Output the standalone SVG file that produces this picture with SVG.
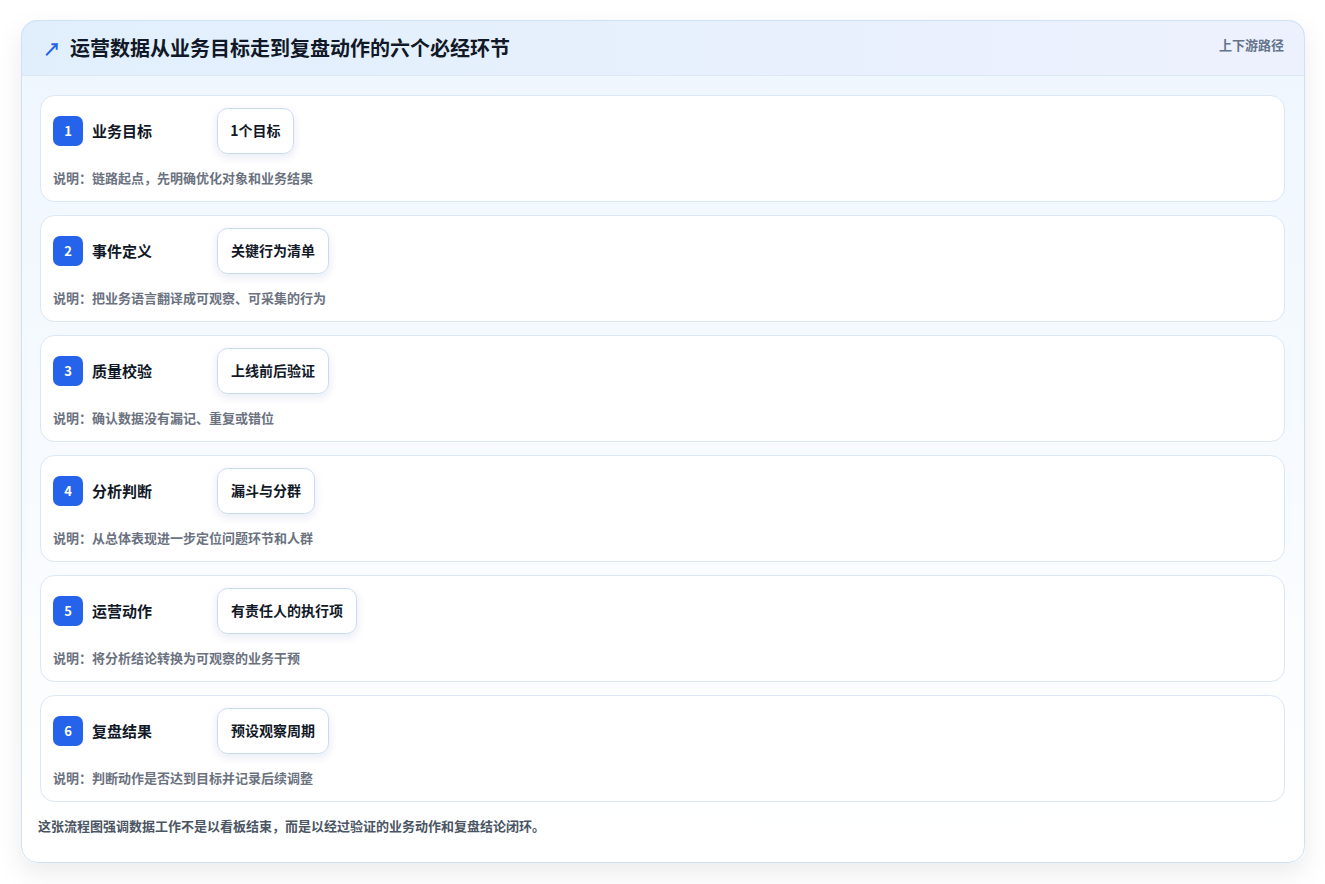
<svg xmlns="http://www.w3.org/2000/svg" width="1325" height="884" viewBox="0 0 1325 884">
<defs>
<linearGradient id="bodyG" x1="0" y1="0" x2="0" y2="1">
<stop offset="0" stop-color="#eef6fe"/>
<stop offset="1" stop-color="#ffffff"/>
</linearGradient>
<linearGradient id="headG" x1="0" y1="0" x2="1" y2="0">
<stop offset="0" stop-color="#e1effd"/>
<stop offset="1" stop-color="#edf1fd"/>
</linearGradient>
<clipPath id="cardClip"><rect x="21" y="20" width="1284" height="843" rx="16"/></clipPath>
<filter id="cardShadow" x="-5%" y="-5%" width="110%" height="115%">
<feDropShadow dx="0" dy="10" stdDeviation="12" flood-color="#0f172a" flood-opacity="0.08"/>
</filter>
<filter id="pillShadow" x="-20%" y="-30%" width="140%" height="170%">
<feDropShadow dx="0" dy="3" stdDeviation="4" flood-color="#1e3a8a" flood-opacity="0.10"/>
</filter>
<style>
text{font-family:"Noto Sans CJK SC","Noto Sans",sans-serif;}
.row{fill:#ffffff;stroke:#dbe7f4;stroke-width:1;}
.badge{fill:#2563eb;}
.num{fill:#ffffff;font-size:13px;font-weight:700;text-anchor:middle;}
.lbl{fill:#111827;font-size:15px;font-weight:700;}
.pill{fill:#ffffff;stroke:#c9dbef;stroke-width:1;filter:url(#pillShadow);}
.ptx{fill:#111827;font-size:14px;font-weight:700;text-anchor:middle;}
.desc{fill:#6b7280;font-size:13px;font-weight:600;}
</style>
</defs>
<rect width="1325" height="884" fill="#ffffff"/>
<rect x="21" y="20" width="1284" height="843" rx="16" fill="url(#bodyG)" filter="url(#cardShadow)"/>
<g clip-path="url(#cardClip)">
<rect x="21" y="20" width="1284" height="55" fill="url(#headG)"/>
<line x1="21" y1="75.5" x2="1305" y2="75.5" stroke="#dbe8f6" stroke-width="1"/>
</g>
<rect x="21.5" y="20.5" width="1283" height="842" rx="16" fill="none" stroke="#cde2f2" stroke-width="1"/>
<g id="header">
<text x="43" y="56" font-size="18" font-weight="700" fill="#2563eb">↗</text>
<text x="70" y="56" font-size="20" font-weight="700" fill="#111827">运营数据从业务目标走到复盘动作的六个必经环节</text>
<text x="1284" y="50" font-size="13" font-weight="600" fill="#64748b" text-anchor="end">上下游路径</text>
</g>
<g id="connectors"></g>
<g id="step1">
<rect class="row" x="40.5" y="95.5" width="1244" height="106" rx="14"/>
<rect class="badge" x="53" y="116" width="30" height="30" rx="7"/>
<text class="num" x="68" y="135.5">1</text>
<text class="lbl" x="92" y="136.5">业务目标</text>
<rect class="pill" x="217.5" y="108.5" width="76" height="45" rx="10"/>
<text class="ptx" x="255.5" y="136">1个目标</text>
<text class="desc" x="53" y="183">说明：链路起点，先明确优化对象和业务结果</text>
</g>
<g id="step2">
<rect class="row" x="40.5" y="215.5" width="1244" height="106" rx="14"/>
<rect class="badge" x="53" y="236" width="30" height="30" rx="7"/>
<text class="num" x="68" y="255.5">2</text>
<text class="lbl" x="92" y="256.5">事件定义</text>
<rect class="pill" x="217.5" y="228.5" width="111" height="45" rx="10"/>
<text class="ptx" x="273" y="256">关键行为清单</text>
<text class="desc" x="53" y="303">说明：把业务语言翻译成可观察、可采集的行为</text>
</g>
<g id="step3">
<rect class="row" x="40.5" y="335.5" width="1244" height="106" rx="14"/>
<rect class="badge" x="53" y="356" width="30" height="30" rx="7"/>
<text class="num" x="68" y="375.5">3</text>
<text class="lbl" x="92" y="376.5">质量校验</text>
<rect class="pill" x="217.5" y="348.5" width="111" height="45" rx="10"/>
<text class="ptx" x="273" y="376">上线前后验证</text>
<text class="desc" x="53" y="423">说明：确认数据没有漏记、重复或错位</text>
</g>
<g id="step4">
<rect class="row" x="40.5" y="455.5" width="1244" height="106" rx="14"/>
<rect class="badge" x="53" y="476" width="30" height="30" rx="7"/>
<text class="num" x="68" y="495.5">4</text>
<text class="lbl" x="92" y="496.5">分析判断</text>
<rect class="pill" x="217.5" y="468.5" width="97" height="45" rx="10"/>
<text class="ptx" x="266" y="496">漏斗与分群</text>
<text class="desc" x="53" y="543">说明：从总体表现进一步定位问题环节和人群</text>
</g>
<g id="step5">
<rect class="row" x="40.5" y="575.5" width="1244" height="106" rx="14"/>
<rect class="badge" x="53" y="596" width="30" height="30" rx="7"/>
<text class="num" x="68" y="615.5">5</text>
<text class="lbl" x="92" y="616.5">运营动作</text>
<rect class="pill" x="217.5" y="588.5" width="139" height="45" rx="10"/>
<text class="ptx" x="287" y="616">有责任人的执行项</text>
<text class="desc" x="53" y="663">说明：将分析结论转换为可观察的业务干预</text>
</g>
<g id="step6">
<rect class="row" x="40.5" y="695.5" width="1244" height="106" rx="14"/>
<rect class="badge" x="53" y="716" width="30" height="30" rx="7"/>
<text class="num" x="68" y="735.5">6</text>
<text class="lbl" x="92" y="736.5">复盘结果</text>
<rect class="pill" x="217.5" y="708.5" width="111" height="45" rx="10"/>
<text class="ptx" x="273" y="736">预设观察周期</text>
<text class="desc" x="53" y="783">说明：判断动作是否达到目标并记录后续调整</text>
</g>
<g id="footer">
<text x="38" y="831" font-size="13" font-weight="600" fill="#4b5563">这张流程图强调数据工作不是以看板结束，而是以经过验证的业务动作和复盘结论闭环。</text>
</g>
</svg>
